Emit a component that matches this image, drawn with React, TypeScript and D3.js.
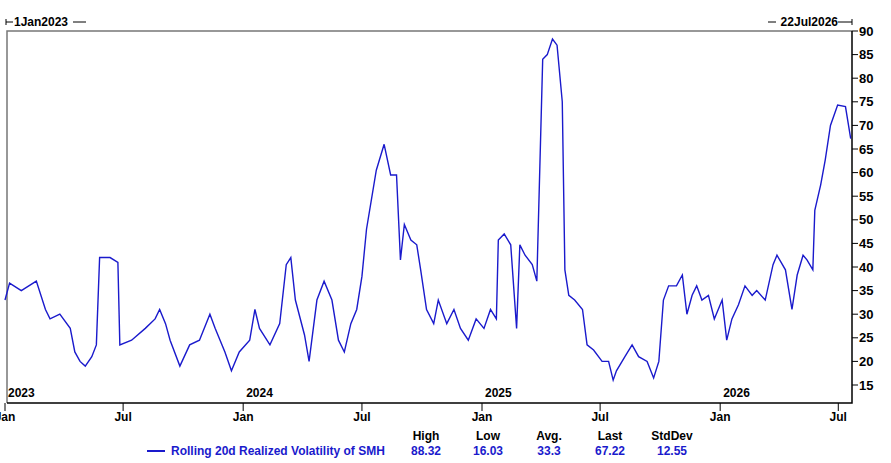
import React, { useEffect, useRef } from 'react';
import * as d3 from 'd3';

const dates = [
  '2023-01-01','2023-01-08','2023-01-26','2023-02-18','2023-03-04','2023-03-11','2023-03-26','2023-04-11','2023-04-18','2023-04-26',
  '2023-05-04','2023-05-14','2023-05-21','2023-05-26','2023-06-11','2023-06-23','2023-06-26','2023-07-14','2023-08-04','2023-08-19',
  '2023-08-26','2023-09-04','2023-09-11','2023-09-26','2023-10-11','2023-10-26','2023-11-11','2023-11-19','2023-12-04','2023-12-14',
  '2023-12-26','2024-01-11','2024-01-19','2024-01-26','2024-02-11','2024-02-26','2024-03-07','2024-03-14','2024-03-21','2024-04-04',
  '2024-04-11','2024-04-23','2024-05-04','2024-05-16','2024-05-26','2024-06-04','2024-06-14','2024-06-23','2024-07-01','2024-07-08',
  '2024-07-23','2024-08-04','2024-08-14','2024-08-23','2024-08-29','2024-09-04','2024-09-14','2024-09-23','2024-09-29','2024-10-08',
  '2024-10-19','2024-10-26','2024-11-08','2024-11-19','2024-11-29','2024-12-11','2024-12-23','2025-01-04','2025-01-14','2025-01-23',
  '2025-01-26','2025-02-04','2025-02-14','2025-02-23','2025-02-28','2025-03-08','2025-03-19','2025-03-26','2025-04-04','2025-04-11',
  '2025-04-19','2025-04-26','2025-05-04','2025-05-08','2025-05-14','2025-05-23','2025-06-04','2025-06-11','2025-06-21','2025-07-04',
  '2025-07-14','2025-07-21','2025-07-26','2025-08-08','2025-08-19','2025-08-29','2025-09-11','2025-09-21','2025-09-29','2025-10-06',
  '2025-10-14','2025-10-26','2025-11-04','2025-11-11','2025-11-19','2025-11-26','2025-12-04','2025-12-14','2025-12-23','2026-01-04',
  '2026-01-11','2026-01-19','2026-01-29','2026-02-08','2026-02-19','2026-02-26','2026-03-11','2026-03-23','2026-03-29','2026-04-11',
  '2026-04-21','2026-04-29','2026-05-08','2026-05-14','2026-05-23','2026-05-26','2026-06-04','2026-06-11','2026-06-19','2026-06-30',
  '2026-07-12','2026-07-20',
];
const vols = [
  33, 36.6, 35, 37, 31, 29, 30, 27, 22, 20,
  19, 21, 23.5, 42, 42, 41, 23.5, 24.5, 27, 29,
  31, 28, 24.5, 19, 23.5, 24.5, 30, 27, 22, 18,
  22, 24.5, 31, 27, 23.5, 28, 40.5, 42, 33, 25.6,
  20, 33, 37, 33, 24.5, 22, 28, 31, 38, 48,
  60.5, 66, 59.5, 59.5, 41.5, 49, 45.7, 44.7, 39.4, 31,
  28, 33, 28, 31, 27, 24.5, 29, 27, 31, 29,
  45.7, 47, 44.7, 27, 44.7, 42.5, 40.5, 37, 84, 85,
  88.3, 87, 75, 39.4, 34, 33, 31, 23.5, 22.4, 20,
  20, 16.03, 18, 21, 23.5, 21, 20, 16.5, 20, 33,
  36, 36, 38.3, 30, 34, 36, 33, 34, 29, 33,
  24.5, 29, 32, 36, 34, 35, 33, 40.5, 42.5, 39.4,
  31, 38.3, 42.5, 41.5, 39.4, 52, 57.4, 62.7, 70, 74.3,
  74, 67.22,
];
const yTicks = [15, 20, 25, 30, 35, 40, 45, 50, 55, 60, 65, 70, 75, 80, 85, 90];
const statHeads = ['High', 'Low', 'Avg.', 'Last', 'StdDev'];
const statVals = ['88.32', '16.03', '33.3', '67.22', '12.55'];
const seriesName = 'Rolling 20d Realized Volatility of SMH';

const W = 891, H = 463;
const FONT = '"Liberation Sans Narrow", "Arial Narrow", "Liberation Sans", Arial, sans-serif';
const BLUE = '#1a1acc';

export default function App() {
  const ref = useRef<SVGSVGElement>(null);
  useEffect(() => {
    const svg = d3.select(ref.current);
    svg.selectAll('*').remove();
    const L = 7, R = 852, T = 31, B = 403;
    const parse = d3.timeParse('%Y-%m-%d');
    const data = dates.map((d, i) => ({ d: parse(d)!, v: vols[i] }));
    const x = d3.scaleTime().domain([new Date(2023, 0, 1), new Date(2026, 6, 22)]).range([L - 2, R]);
    const y = d3.scaleLinear().domain([90, 15]).range([T, 385]);

    svg.append('rect').attr('width', W).attr('height', H).attr('fill', '#fff');
    const g = svg.append('g').style('font-family', FONT).style('font-weight', 'bold');

    // frame
    g.append('path').attr('d', `M${L},${B}V${T}H${R}`).attr('fill', 'none').attr('stroke', '#777').attr('stroke-width', 1.5);
    g.append('path').attr('d', `M${L},${B}H${R}V${T}`).attr('fill', 'none').attr('stroke', '#000').attr('stroke-width', 1.5);
    // top date labels
    g.append('path').attr('d', `M6,19V25M6,22H13M73,22H86`).attr('stroke', '#000');
    g.append('text').attr('x', 14).attr('y', 26).attr('font-size', 12).text('1Jan2023');
    g.append('path').attr('d', `M${R - 14},22H${R}M${R},19V25M768,22H776`).attr('stroke', '#000');
    g.append('text').attr('x', R - 14).attr('y', 26).attr('text-anchor', 'end').attr('font-size', 12).text('22Jul2026');

    // y axis on right
    yTicks.forEach(t => {
      g.append('line').attr('x1', R).attr('x2', R + 6).attr('y1', y(t)).attr('y2', y(t)).attr('stroke', '#000');
      g.append('text').attr('x', R + 7).attr('y', y(t) + 4.5).attr('font-size', 13).text(String(t));
    });

    // x axis ticks
    const months = d3.timeMonth.every(6)!.range(new Date(2023, 0, 1), new Date(2026, 7, 1));
    months.forEach(m => {
      const px = x(m);
      g.append('line').attr('x1', px).attr('x2', px).attr('y1', B).attr('y2', B + 8).attr('stroke', '#000');
      g.append('text').attr('x', px).attr('y', B + 18).attr('text-anchor', 'middle').attr('font-size', 12)
        .text(d3.timeFormat('%b')(m));
      if (m.getMonth() === 0)
        g.append('text').attr('x', px + 3).attr('y', B - 6).attr('font-size', 12).text(d3.timeFormat('%Y')(m));
    });

    // series
    const line = d3.line<{ d: Date; v: number }>().x(p => x(p.d)).y(p => y(p.v));
    g.append('path').datum(data).attr('d', line).attr('fill', 'none').attr('stroke', BLUE).attr('stroke-width', 1.4);

    // legend
    const cols = [426, 488, 549, 610, 672];
    statHeads.forEach((h, i) => {
      g.append('text').attr('x', cols[i]).attr('y', 440).attr('text-anchor', 'middle').attr('font-size', 12).text(h);
      g.append('text').attr('x', cols[i]).attr('y', 455).attr('text-anchor', 'middle').attr('font-size', 12).attr('fill', BLUE).text(statVals[i]);
    });
    g.append('line').attr('x1', 147).attr('x2', 165).attr('y1', 451).attr('y2', 451).attr('stroke', BLUE).attr('stroke-width', 2);
    g.append('text').attr('x', 171).attr('y', 455).attr('font-size', 12).attr('fill', BLUE).text(seriesName);
  }, []);
  return <svg ref={ref} width={W} height={H} style={{ position: 'absolute', left: 0, top: 0 }} />;
}
